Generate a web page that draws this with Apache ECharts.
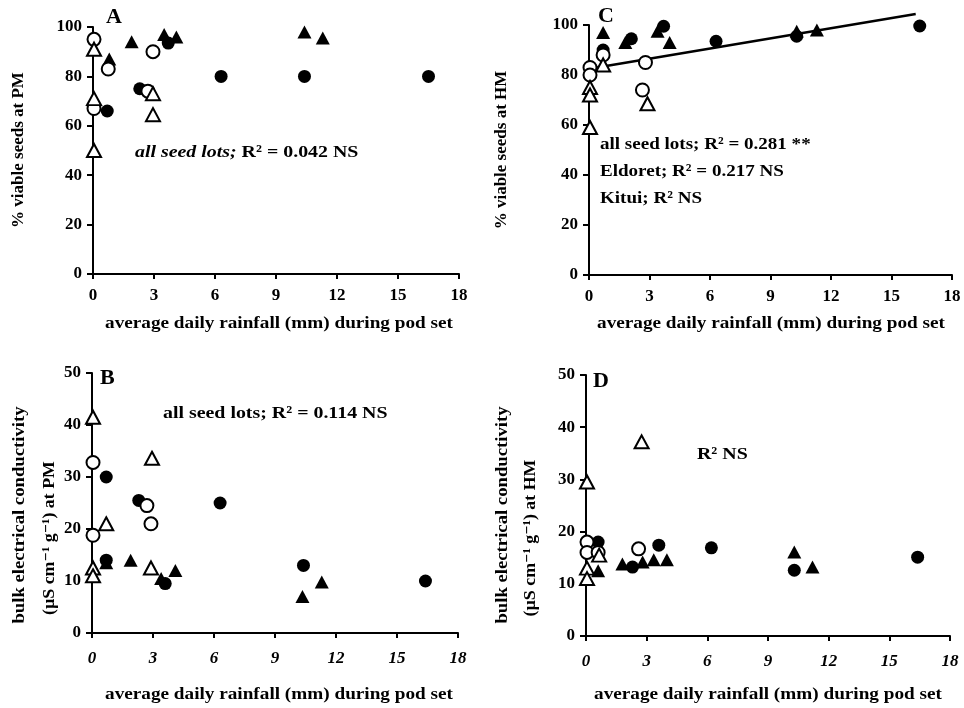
<!DOCTYPE html>
<html>
<head>
<meta charset="utf-8">
<script src="https://cdn.jsdelivr.net/npm/echarts@6/dist/echarts.min.js"></script>
<style>
  html, body { margin: 0; padding: 0; background: #ffffff; }
  #chart { width: 964px; height: 708px; }
</style>
</head>
<body>
<div id="chart"></div>
<script>
// Tick values
const rainTicks = [0, 3, 6, 9, 12, 15, 18];
const viableTicks = [0, 20, 40, 60, 80, 100];
const ecTicks = [0, 10, 20, 30, 40, 50];

// Panel A: % viable seeds at PM vs rainfall
const aFilledCircle = [[0.7, 66], [2.3, 75], [3.7, 93.5], [6.3, 80], [10.4, 80], [16.5, 80]];
const aOpenCircle = [[0.05, 95], [0.05, 67], [0.75, 83], [2.95, 90], [2.7, 74]];
const aFilledTriangle = [[0.8, 87], [1.9, 94], [3.5, 97], [4.1, 96], [10.4, 98], [11.3, 95.5]];
const aOpenTriangle = [[0.05, 91], [0.05, 71], [0.05, 50], [2.95, 73], [2.95, 64.5]];

// Panel B: bulk electrical conductivity at PM vs rainfall
const bFilledCircle = [[0.7, 30], [2.3, 25.5], [6.3, 25], [0.7, 14], [3.6, 9.5], [10.4, 13], [16.4, 10]];
const bOpenCircle = [[0.05, 32.8], [0.05, 18.8], [2.7, 24.5], [2.9, 21]];
const bFilledTriangle = [[0.7, 13.5], [1.9, 14], [3.4, 10.5], [4.1, 12], [10.35, 7], [11.3, 9.8]];
const bOpenTriangle = [[0.05, 41.5], [0.05, 12.5], [0.05, 11], [0.7, 21], [2.95, 33.6], [2.9, 12.5]];

// Panel C: % viable seeds at HM vs rainfall
const cFilledCircle = [[0.7, 90], [2.1, 94.5], [3.7, 99.5], [6.3, 93.5], [10.3, 95.5], [16.4, 99.6]];
const cOpenCircle = [[0.05, 83], [0.05, 80], [0.7, 88], [2.8, 85], [2.65, 74]];
const cFilledTriangle = [[0.7, 97], [1.8, 93], [3.4, 97.5], [4.0, 93], [10.3, 97.5], [11.3, 98]];
const cOpenTriangle = [[0.7, 84], [0.05, 75], [0.05, 72], [0.05, 59], [2.9, 68.5]];
const cFitLine = [[0.4, 83], [16.2, 104.4]];

// Panel D: bulk electrical conductivity at HM vs rainfall
const dFilledCircle = [[0.6, 18], [2.3, 13.2], [3.6, 17.4], [6.2, 16.9], [10.3, 12.6], [16.4, 15.1]];
const dOpenCircle = [[0.05, 18], [0.05, 16], [0.6, 16], [2.6, 16.7]];
const dFilledTriangle = [[0.6, 12.5], [1.8, 13.8], [2.8, 14.2], [3.35, 14.6], [4.0, 14.6], [10.3, 16.1], [11.2, 13.2]];
const dOpenTriangle = [[0.05, 29.5], [0.05, 13], [0.05, 11], [0.65, 15.5], [2.75, 37.2]];

const SERIF = '"Liberation Serif", "DejaVu Serif", serif';

const grids = [
  { left: 93, top: 27, width: 366, height: 247 },   // A
  { left: 92, top: 373, width: 366, height: 260 },  // B
  { left: 589, top: 25, width: 363, height: 250 },  // C
  { left: 586, top: 375, width: 364, height: 261 }  // D
];

function xAxisFor(i, italic, margin) {
  return {
    gridIndex: i, type: 'value',
    min: rainTicks[0], max: rainTicks[rainTicks.length - 1],
    interval: rainTicks[1] - rainTicks[0],
    axisLine: { show: true, onZero: false, lineStyle: { color: '#000', width: 2 } },
    axisTick: { show: true, inside: false, length: 5, lineStyle: { color: '#000', width: 2 } },
    axisLabel: { color: '#000', fontFamily: SERIF, fontWeight: 'bold', fontStyle: italic ? 'italic' : 'normal', fontSize: 17, margin: margin },
    splitLine: { show: false }
  };
}
function yAxisFor(i, ticks) {
  return {
    gridIndex: i, type: 'value',
    min: ticks[0], max: ticks[ticks.length - 1],
    interval: ticks[1] - ticks[0],
    axisLine: { show: true, onZero: false, lineStyle: { color: '#000', width: 2 } },
    axisTick: { show: true, inside: false, length: 6, lineStyle: { color: '#000', width: 2 } },
    axisLabel: { color: '#000', fontFamily: SERIF, fontWeight: 'bold', fontSize: 17, margin: 11 },
    splitLine: { show: false }
  };
}

const filled = { color: '#000', opacity: 1 };
const open = { color: '#fff', borderColor: '#000', borderWidth: 2, opacity: 1 };
function marks(i, data, symbol, style, z) {
  return {
    type: 'scatter', xAxisIndex: i, yAxisIndex: i, data: data,
    symbol: symbol, symbolSize: symbol === 'circle' ? 13 : [14, 13],
    itemStyle: style, z: z, silent: true, animation: false
  };
}
function panelSeries(i, fc, oc, ft, ot) {
  return [
    marks(i, fc, 'circle', filled, 3),
    marks(i, ft, 'triangle', filled, 3),
    marks(i, oc, 'circle', open, 4),
    marks(i, ot, 'triangle', open, 4)
  ];
}

// Horizontal text; the serif used in the figure runs wide, so glyphs are stretched a little
function label(text, x, y, size, stretch, extra) {
  return {
    type: 'text', x: x, y: y, scaleX: stretch, silent: true,
    style: Object.assign({
      text: text, fill: '#000', font: 'bold ' + size + 'px ' + SERIF,
      align: 'left', verticalAlign: 'middle'
    }, extra || {})
  };
}
// Vertical axis title, reading bottom to top
function vlabel(text, x, y, stretch) {
  return {
    type: 'text', x: x, y: y, rotation: Math.PI / 2, scaleX: stretch, silent: true,
    style: { text: text, fill: '#000', font: 'bold 17px ' + SERIF, align: 'center', verticalAlign: 'middle' }
  };
}

const xTitle = 'average daily rainfall (mm) during pod set';

const option = {
  backgroundColor: '#fff',
  animation: false,
  grid: grids,
  xAxis: [xAxisFor(0, false, 13), xAxisFor(1, true, 17), xAxisFor(2, false, 13), xAxisFor(3, true, 17)],
  yAxis: [yAxisFor(0, viableTicks), yAxisFor(1, ecTicks), yAxisFor(2, viableTicks), yAxisFor(3, ecTicks)],
  series: [].concat(
    panelSeries(0, aFilledCircle, aOpenCircle, aFilledTriangle, aOpenTriangle),
    panelSeries(1, bFilledCircle, bOpenCircle, bFilledTriangle, bOpenTriangle),
    panelSeries(2, cFilledCircle, cOpenCircle, cFilledTriangle, cOpenTriangle),
    panelSeries(3, dFilledCircle, dOpenCircle, dFilledTriangle, dOpenTriangle),
    [{
      type: 'line', xAxisIndex: 2, yAxisIndex: 2, data: cFitLine,
      showSymbol: false, clip: false, silent: true, z: 2,
      lineStyle: { color: '#000', width: 2.5 }
    }]
  ),
  graphic: [
    label('A', 106, 17, 22, 1),
    label('B', 100, 378, 22, 1),
    label('C', 598, 16, 22, 1),
    label('D', 593, 381, 22, 1),

    vlabel('% viable seeds at PM', 19, 150, 1),
    vlabel('bulk electrical conductivity', 20, 515, 1.1),
    vlabel('(µS cm⁻¹ g⁻¹) at PM', 50, 538, 1.05),
    vlabel('% viable seeds at HM', 502, 150, 1),
    vlabel('bulk electrical conductivity', 503, 515, 1.1),
    vlabel('(µS cm⁻¹ g⁻¹) at HM', 531, 538, 1.05),

    label(xTitle, 279, 324, 17, 1.13, { align: 'center' }),
    label(xTitle, 279, 695, 17, 1.13, { align: 'center' }),
    label(xTitle, 771, 324, 17, 1.13, { align: 'center' }),
    label(xTitle, 768, 695, 17, 1.13, { align: 'center' }),

    label('{i|all seed lots;} R² = 0.042 NS', 135, 153, 17, 1.17, {
      rich: { i: { font: 'italic bold 17px ' + SERIF, fill: '#000' } }
    }),
    label('all seed lots; R² = 0.114 NS', 163, 414, 17, 1.17),
    label('all seed lots; R² = 0.281 **', 600, 145, 17, 1.12),
    label('Eldoret; R² = 0.217 NS', 600, 172, 17, 1.12),
    label('Kitui; R² NS', 600, 199, 17, 1.12),
    label('R² NS', 697, 455, 17, 1.17)
  ]
};

const chart = echarts.init(document.getElementById('chart'), null, { renderer: 'canvas' });
chart.setOption(option);
</script>
</body>
</html>
